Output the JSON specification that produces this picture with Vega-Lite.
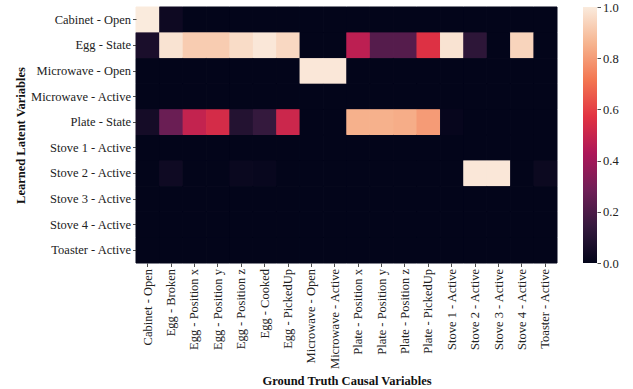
{
  "$schema": "https://vega.github.io/schema/vega-lite/v6.json",
  "autosize": {"type": "pad"},
  "padding": {"left": 13, "top": 1, "right": 5, "bottom": 3},
  "background": "white",
  "bounds": "flush",
  "spacing": 26,
  "config": {
    "view": {"stroke": null},
    "font": "Liberation Serif",
    "axis": {
      "labelFont": "Liberation Serif",
      "titleFont": "Liberation Serif",
      "labelFontSize": 12.5,
      "titleFontSize": 12.5,
      "labelColor": "#222222",
      "titleColor": "#111111",
      "titleFontWeight": "bold",
      "tickColor": "#222222",
      "tickSize": 3.5,
      "tickWidth": 0.8,
      "labelPadding": 2,
      "domain": false,
      "grid": false
    }
  },
  "hconcat": [
    {
      "width": 421,
      "height": 256,
      "data": {
        "values": [
          {"latent": "Cabinet - Open", "truth": "Cabinet - Open", "value": 1.0},
          {"latent": "Cabinet - Open", "truth": "Egg - Broken", "value": 0.03},
          {"latent": "Cabinet - Open", "truth": "Egg - Position x", "value": 0},
          {"latent": "Cabinet - Open", "truth": "Egg - Position y", "value": 0},
          {"latent": "Cabinet - Open", "truth": "Egg - Position z", "value": 0},
          {"latent": "Cabinet - Open", "truth": "Egg - Cooked", "value": 0},
          {"latent": "Cabinet - Open", "truth": "Egg - PickedUp", "value": 0},
          {"latent": "Cabinet - Open", "truth": "Microwave - Open", "value": 0},
          {"latent": "Cabinet - Open", "truth": "Microwave - Active", "value": 0},
          {"latent": "Cabinet - Open", "truth": "Plate - Position x", "value": 0},
          {"latent": "Cabinet - Open", "truth": "Plate - Position y", "value": 0},
          {"latent": "Cabinet - Open", "truth": "Plate - Position z", "value": 0},
          {"latent": "Cabinet - Open", "truth": "Plate - PickedUp", "value": 0},
          {"latent": "Cabinet - Open", "truth": "Stove 1 - Active", "value": 0},
          {"latent": "Cabinet - Open", "truth": "Stove 2 - Active", "value": 0},
          {"latent": "Cabinet - Open", "truth": "Stove 3 - Active", "value": 0},
          {"latent": "Cabinet - Open", "truth": "Stove 4 - Active", "value": 0},
          {"latent": "Cabinet - Open", "truth": "Toaster - Active", "value": 0},

          {"latent": "Egg - State", "truth": "Cabinet - Open", "value": 0.066},
          {"latent": "Egg - State", "truth": "Egg - Broken", "value": 0.98},
          {"latent": "Egg - State", "truth": "Egg - Position x", "value": 0.92},
          {"latent": "Egg - State", "truth": "Egg - Position y", "value": 0.92},
          {"latent": "Egg - State", "truth": "Egg - Position z", "value": 0.96},
          {"latent": "Egg - State", "truth": "Egg - Cooked", "value": 0.99},
          {"latent": "Egg - State", "truth": "Egg - PickedUp", "value": 0.95},
          {"latent": "Egg - State", "truth": "Microwave - Open", "value": 0},
          {"latent": "Egg - State", "truth": "Microwave - Active", "value": 0},
          {"latent": "Egg - State", "truth": "Plate - Position x", "value": 0.47},
          {"latent": "Egg - State", "truth": "Plate - Position y", "value": 0.22},
          {"latent": "Egg - State", "truth": "Plate - Position z", "value": 0.22},
          {"latent": "Egg - State", "truth": "Plate - PickedUp", "value": 0.56},
          {"latent": "Egg - State", "truth": "Stove 1 - Active", "value": 0.98},
          {"latent": "Egg - State", "truth": "Stove 2 - Active", "value": 0.12},
          {"latent": "Egg - State", "truth": "Stove 3 - Active", "value": 0},
          {"latent": "Egg - State", "truth": "Stove 4 - Active", "value": 0.94},
          {"latent": "Egg - State", "truth": "Toaster - Active", "value": 0},

          {"latent": "Microwave - Open", "truth": "Cabinet - Open", "value": 0},
          {"latent": "Microwave - Open", "truth": "Egg - Broken", "value": 0},
          {"latent": "Microwave - Open", "truth": "Egg - Position x", "value": 0},
          {"latent": "Microwave - Open", "truth": "Egg - Position y", "value": 0},
          {"latent": "Microwave - Open", "truth": "Egg - Position z", "value": 0},
          {"latent": "Microwave - Open", "truth": "Egg - Cooked", "value": 0},
          {"latent": "Microwave - Open", "truth": "Egg - PickedUp", "value": 0},
          {"latent": "Microwave - Open", "truth": "Microwave - Open", "value": 0.99},
          {"latent": "Microwave - Open", "truth": "Microwave - Active", "value": 0.99},
          {"latent": "Microwave - Open", "truth": "Plate - Position x", "value": 0},
          {"latent": "Microwave - Open", "truth": "Plate - Position y", "value": 0},
          {"latent": "Microwave - Open", "truth": "Plate - Position z", "value": 0},
          {"latent": "Microwave - Open", "truth": "Plate - PickedUp", "value": 0},
          {"latent": "Microwave - Open", "truth": "Stove 1 - Active", "value": 0},
          {"latent": "Microwave - Open", "truth": "Stove 2 - Active", "value": 0},
          {"latent": "Microwave - Open", "truth": "Stove 3 - Active", "value": 0},
          {"latent": "Microwave - Open", "truth": "Stove 4 - Active", "value": 0},
          {"latent": "Microwave - Open", "truth": "Toaster - Active", "value": 0},

          {"latent": "Microwave - Active", "truth": "Cabinet - Open", "value": 0},
          {"latent": "Microwave - Active", "truth": "Egg - Broken", "value": 0},
          {"latent": "Microwave - Active", "truth": "Egg - Position x", "value": 0},
          {"latent": "Microwave - Active", "truth": "Egg - Position y", "value": 0},
          {"latent": "Microwave - Active", "truth": "Egg - Position z", "value": 0},
          {"latent": "Microwave - Active", "truth": "Egg - Cooked", "value": 0},
          {"latent": "Microwave - Active", "truth": "Egg - PickedUp", "value": 0},
          {"latent": "Microwave - Active", "truth": "Microwave - Open", "value": 0},
          {"latent": "Microwave - Active", "truth": "Microwave - Active", "value": 0},
          {"latent": "Microwave - Active", "truth": "Plate - Position x", "value": 0},
          {"latent": "Microwave - Active", "truth": "Plate - Position y", "value": 0},
          {"latent": "Microwave - Active", "truth": "Plate - Position z", "value": 0},
          {"latent": "Microwave - Active", "truth": "Plate - PickedUp", "value": 0},
          {"latent": "Microwave - Active", "truth": "Stove 1 - Active", "value": 0},
          {"latent": "Microwave - Active", "truth": "Stove 2 - Active", "value": 0},
          {"latent": "Microwave - Active", "truth": "Stove 3 - Active", "value": 0},
          {"latent": "Microwave - Active", "truth": "Stove 4 - Active", "value": 0},
          {"latent": "Microwave - Active", "truth": "Toaster - Active", "value": 0},

          {"latent": "Plate - State", "truth": "Cabinet - Open", "value": 0.05},
          {"latent": "Plate - State", "truth": "Egg - Broken", "value": 0.27},
          {"latent": "Plate - State", "truth": "Egg - Position x", "value": 0.49},
          {"latent": "Plate - State", "truth": "Egg - Position y", "value": 0.535},
          {"latent": "Plate - State", "truth": "Egg - Position z", "value": 0.09},
          {"latent": "Plate - State", "truth": "Egg - Cooked", "value": 0.14},
          {"latent": "Plate - State", "truth": "Egg - PickedUp", "value": 0.51},
          {"latent": "Plate - State", "truth": "Microwave - Open", "value": 0},
          {"latent": "Plate - State", "truth": "Microwave - Active", "value": 0},
          {"latent": "Plate - State", "truth": "Plate - Position x", "value": 0.85},
          {"latent": "Plate - State", "truth": "Plate - Position y", "value": 0.85},
          {"latent": "Plate - State", "truth": "Plate - Position z", "value": 0.84},
          {"latent": "Plate - State", "truth": "Plate - PickedUp", "value": 0.8},
          {"latent": "Plate - State", "truth": "Stove 1 - Active", "value": 0.01},
          {"latent": "Plate - State", "truth": "Stove 2 - Active", "value": 0},
          {"latent": "Plate - State", "truth": "Stove 3 - Active", "value": 0},
          {"latent": "Plate - State", "truth": "Stove 4 - Active", "value": 0},
          {"latent": "Plate - State", "truth": "Toaster - Active", "value": 0},

          {"latent": "Stove 1 - Active", "truth": "Cabinet - Open", "value": 0},
          {"latent": "Stove 1 - Active", "truth": "Egg - Broken", "value": 0},
          {"latent": "Stove 1 - Active", "truth": "Egg - Position x", "value": 0},
          {"latent": "Stove 1 - Active", "truth": "Egg - Position y", "value": 0},
          {"latent": "Stove 1 - Active", "truth": "Egg - Position z", "value": 0},
          {"latent": "Stove 1 - Active", "truth": "Egg - Cooked", "value": 0},
          {"latent": "Stove 1 - Active", "truth": "Egg - PickedUp", "value": 0},
          {"latent": "Stove 1 - Active", "truth": "Microwave - Open", "value": 0},
          {"latent": "Stove 1 - Active", "truth": "Microwave - Active", "value": 0},
          {"latent": "Stove 1 - Active", "truth": "Plate - Position x", "value": 0},
          {"latent": "Stove 1 - Active", "truth": "Plate - Position y", "value": 0},
          {"latent": "Stove 1 - Active", "truth": "Plate - Position z", "value": 0},
          {"latent": "Stove 1 - Active", "truth": "Plate - PickedUp", "value": 0},
          {"latent": "Stove 1 - Active", "truth": "Stove 1 - Active", "value": 0},
          {"latent": "Stove 1 - Active", "truth": "Stove 2 - Active", "value": 0},
          {"latent": "Stove 1 - Active", "truth": "Stove 3 - Active", "value": 0},
          {"latent": "Stove 1 - Active", "truth": "Stove 4 - Active", "value": 0},
          {"latent": "Stove 1 - Active", "truth": "Toaster - Active", "value": 0},

          {"latent": "Stove 2 - Active", "truth": "Cabinet - Open", "value": 0},
          {"latent": "Stove 2 - Active", "truth": "Egg - Broken", "value": 0.035},
          {"latent": "Stove 2 - Active", "truth": "Egg - Position x", "value": 0},
          {"latent": "Stove 2 - Active", "truth": "Egg - Position y", "value": 0},
          {"latent": "Stove 2 - Active", "truth": "Egg - Position z", "value": 0.02},
          {"latent": "Stove 2 - Active", "truth": "Egg - Cooked", "value": 0.015},
          {"latent": "Stove 2 - Active", "truth": "Egg - PickedUp", "value": 0},
          {"latent": "Stove 2 - Active", "truth": "Microwave - Open", "value": 0},
          {"latent": "Stove 2 - Active", "truth": "Microwave - Active", "value": 0},
          {"latent": "Stove 2 - Active", "truth": "Plate - Position x", "value": 0},
          {"latent": "Stove 2 - Active", "truth": "Plate - Position y", "value": 0},
          {"latent": "Stove 2 - Active", "truth": "Plate - Position z", "value": 0},
          {"latent": "Stove 2 - Active", "truth": "Plate - PickedUp", "value": 0},
          {"latent": "Stove 2 - Active", "truth": "Stove 1 - Active", "value": 0},
          {"latent": "Stove 2 - Active", "truth": "Stove 2 - Active", "value": 0.99},
          {"latent": "Stove 2 - Active", "truth": "Stove 3 - Active", "value": 0.99},
          {"latent": "Stove 2 - Active", "truth": "Stove 4 - Active", "value": 0},
          {"latent": "Stove 2 - Active", "truth": "Toaster - Active", "value": 0.025},

          {"latent": "Stove 3 - Active", "truth": "Cabinet - Open", "value": 0},
          {"latent": "Stove 3 - Active", "truth": "Egg - Broken", "value": 0},
          {"latent": "Stove 3 - Active", "truth": "Egg - Position x", "value": 0},
          {"latent": "Stove 3 - Active", "truth": "Egg - Position y", "value": 0},
          {"latent": "Stove 3 - Active", "truth": "Egg - Position z", "value": 0},
          {"latent": "Stove 3 - Active", "truth": "Egg - Cooked", "value": 0},
          {"latent": "Stove 3 - Active", "truth": "Egg - PickedUp", "value": 0},
          {"latent": "Stove 3 - Active", "truth": "Microwave - Open", "value": 0},
          {"latent": "Stove 3 - Active", "truth": "Microwave - Active", "value": 0},
          {"latent": "Stove 3 - Active", "truth": "Plate - Position x", "value": 0},
          {"latent": "Stove 3 - Active", "truth": "Plate - Position y", "value": 0},
          {"latent": "Stove 3 - Active", "truth": "Plate - Position z", "value": 0},
          {"latent": "Stove 3 - Active", "truth": "Plate - PickedUp", "value": 0},
          {"latent": "Stove 3 - Active", "truth": "Stove 1 - Active", "value": 0},
          {"latent": "Stove 3 - Active", "truth": "Stove 2 - Active", "value": 0},
          {"latent": "Stove 3 - Active", "truth": "Stove 3 - Active", "value": 0},
          {"latent": "Stove 3 - Active", "truth": "Stove 4 - Active", "value": 0},
          {"latent": "Stove 3 - Active", "truth": "Toaster - Active", "value": 0},

          {"latent": "Stove 4 - Active", "truth": "Cabinet - Open", "value": 0},
          {"latent": "Stove 4 - Active", "truth": "Egg - Broken", "value": 0},
          {"latent": "Stove 4 - Active", "truth": "Egg - Position x", "value": 0},
          {"latent": "Stove 4 - Active", "truth": "Egg - Position y", "value": 0},
          {"latent": "Stove 4 - Active", "truth": "Egg - Position z", "value": 0},
          {"latent": "Stove 4 - Active", "truth": "Egg - Cooked", "value": 0},
          {"latent": "Stove 4 - Active", "truth": "Egg - PickedUp", "value": 0},
          {"latent": "Stove 4 - Active", "truth": "Microwave - Open", "value": 0},
          {"latent": "Stove 4 - Active", "truth": "Microwave - Active", "value": 0},
          {"latent": "Stove 4 - Active", "truth": "Plate - Position x", "value": 0},
          {"latent": "Stove 4 - Active", "truth": "Plate - Position y", "value": 0},
          {"latent": "Stove 4 - Active", "truth": "Plate - Position z", "value": 0},
          {"latent": "Stove 4 - Active", "truth": "Plate - PickedUp", "value": 0},
          {"latent": "Stove 4 - Active", "truth": "Stove 1 - Active", "value": 0},
          {"latent": "Stove 4 - Active", "truth": "Stove 2 - Active", "value": 0},
          {"latent": "Stove 4 - Active", "truth": "Stove 3 - Active", "value": 0},
          {"latent": "Stove 4 - Active", "truth": "Stove 4 - Active", "value": 0},
          {"latent": "Stove 4 - Active", "truth": "Toaster - Active", "value": 0},

          {"latent": "Toaster - Active", "truth": "Cabinet - Open", "value": 0},
          {"latent": "Toaster - Active", "truth": "Egg - Broken", "value": 0},
          {"latent": "Toaster - Active", "truth": "Egg - Position x", "value": 0},
          {"latent": "Toaster - Active", "truth": "Egg - Position y", "value": 0},
          {"latent": "Toaster - Active", "truth": "Egg - Position z", "value": 0},
          {"latent": "Toaster - Active", "truth": "Egg - Cooked", "value": 0},
          {"latent": "Toaster - Active", "truth": "Egg - PickedUp", "value": 0},
          {"latent": "Toaster - Active", "truth": "Microwave - Open", "value": 0},
          {"latent": "Toaster - Active", "truth": "Microwave - Active", "value": 0},
          {"latent": "Toaster - Active", "truth": "Plate - Position x", "value": 0},
          {"latent": "Toaster - Active", "truth": "Plate - Position y", "value": 0},
          {"latent": "Toaster - Active", "truth": "Plate - Position z", "value": 0},
          {"latent": "Toaster - Active", "truth": "Plate - PickedUp", "value": 0},
          {"latent": "Toaster - Active", "truth": "Stove 1 - Active", "value": 0},
          {"latent": "Toaster - Active", "truth": "Stove 2 - Active", "value": 0},
          {"latent": "Toaster - Active", "truth": "Stove 3 - Active", "value": 0},
          {"latent": "Toaster - Active", "truth": "Stove 4 - Active", "value": 0},
          {"latent": "Toaster - Active", "truth": "Toaster - Active", "value": 0}
        ]
      },
      "encoding": {
        "x": {
          "field": "truth",
          "type": "nominal",
          "sort": null,
          "scale": {"paddingInner": 0, "paddingOuter": 0},
          "axis": {
            "title": "Ground Truth Causal Variables",
            "labelAngle": -90,
            "titleY": 117,
            "titleBaseline": "middle"
          }
        },
        "y": {
          "field": "latent",
          "type": "nominal",
          "sort": null,
          "scale": {"paddingInner": 0, "paddingOuter": 0},
          "axis": {
            "title": "Learned Latent Variables",
            "titleX": -116,
            "titleBaseline": "middle"
          }
        }
      },
      "layer": [
        {
          "mark": {"type": "rect", "filled": false, "strokeWidth": 1},
          "encoding": {
            "stroke": {
              "field": "value",
              "type": "quantitative",
              "scale": {
                "type": "linear",
                "interpolate": "rgb",
                "domain": [0, 0.142857, 0.285714, 0.428571, 0.571429, 0.714286, 0.857143, 1],
                "range": ["#03051a", "#35193e", "#701f57", "#ad1759", "#e13342", "#f37651", "#f6b48f", "#faebdd"]
              },
              "legend": null
            }
          }
        },
        {
          "mark": {"type": "rect", "strokeWidth": 0},
          "encoding": {
            "fill": {
              "field": "value",
              "type": "quantitative",
              "scale": {
                "type": "linear",
                "interpolate": "rgb",
                "domain": [0, 0.142857, 0.285714, 0.428571, 0.571429, 0.714286, 0.857143, 1],
                "range": ["#03051a", "#35193e", "#701f57", "#ad1759", "#e13342", "#f37651", "#f6b48f", "#faebdd"]
              },
              "legend": null
            }
          }
        }
      ]
    },
    {
      "width": 14,
      "height": 256,
      "data": {"values": [{"low": 0, "high": 1}]},
      "mark": {
        "type": "rect",
        "color": {
          "gradient": "linear",
          "x1": 0, "y1": 1, "x2": 0, "y2": 0,
          "stops": [
            {"offset": 0, "color": "#03051a"},
            {"offset": 0.142857, "color": "#35193e"},
            {"offset": 0.285714, "color": "#701f57"},
            {"offset": 0.428571, "color": "#ad1759"},
            {"offset": 0.571429, "color": "#e13342"},
            {"offset": 0.714286, "color": "#f37651"},
            {"offset": 0.857143, "color": "#f6b48f"},
            {"offset": 1, "color": "#faebdd"}
          ]
        }
      },
      "encoding": {
        "y": {
          "field": "high",
          "type": "quantitative",
          "scale": {"domain": [0, 1], "nice": false, "zero": false},
          "axis": {
            "orient": "right",
            "title": null,
            "values": [0, 0.2, 0.4, 0.6, 0.8, 1],
            "format": ".1f"
          }
        },
        "y2": {"field": "low"}
      }
    }
  ]
}
